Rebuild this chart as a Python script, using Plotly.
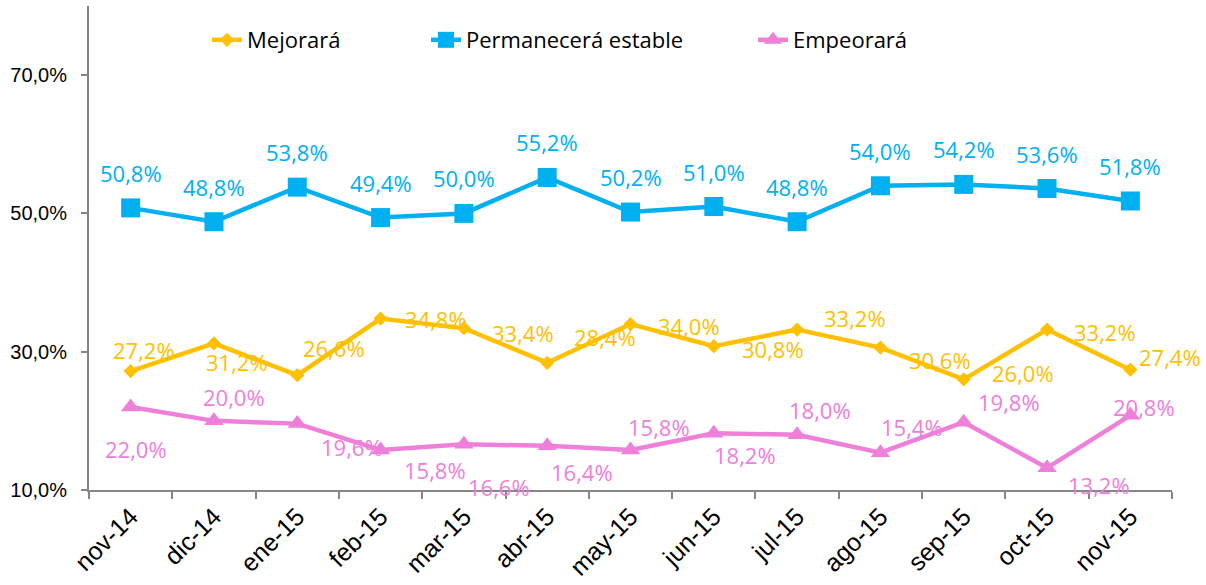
import plotly.graph_objects as go

months = ["nov-14", "dic-14", "ene-15", "feb-15", "mar-15", "abr-15", "may-15",
          "jun-15", "jul-15", "ago-15", "sep-15", "oct-15", "nov-15"]
mejorara = [27.2, 31.2, 26.6, 34.8, 33.4, 28.4, 34.0, 30.8, 33.2, 30.6, 26.0, 33.2, 27.4]
estable = [50.8, 48.8, 53.8, 49.4, 50.0, 55.2, 50.2, 51.0, 48.8, 54.0, 54.2, 53.6, 51.8]
empeorara = [22.0, 20.0, 19.6, 15.8, 16.6, 16.4, 15.8, 18.2, 18.0, 15.4, 19.8, 13.2, 20.8]

y_ticks = [10, 30, 50, 70]
y_tick_labels = ["10,0%", "30,0%", "50,0%", "70,0%"]

# label offsets in pixels (dx right, dy down) - styling only
mej_dx = [13, 23, 37, 55, 59, 58, 58, 59, 58, 60, 59, 58, 40]
mej_dy = [-21, 19, -27, 0, 5, -26, 2, 3, -12, 12, -6, 2, -13]
emp_dx = [5, 20, 55, 54, 35, 35, 28, 31, 23, 32, 45, 52, 14]
emp_dy = [42, -24, 23, 20, 43, 26, -23, 22, -25, -26, -20, 17, -8]

YELLOW = "#FFC000"
BLUE = "#00B0F0"
PINK = "#EE80DA"
AXIS = "#868686"
LABEL_FONT = "Open Sans"
TICK_FONT = "Liberation Sans"

PLOT_L, PLOT_R, PLOT_T, PLOT_B = 89, 1172, 6, 490
PW, PH = PLOT_R - PLOT_L, PLOT_B - PLOT_T

fig = go.Figure()
fig.add_trace(go.Scatter(x=months, y=mejorara, name="Mejorará", mode="lines+markers",
                         line=dict(color=YELLOW, width=4.5),
                         marker=dict(symbol="diamond", size=11, color=YELLOW),
                         legend="legend"))
fig.add_trace(go.Scatter(x=months, y=estable, name="Permanecerá estable", mode="lines+markers",
                         line=dict(color=BLUE, width=4.5),
                         marker=dict(symbol="square", size=19, color=BLUE),
                         legend="legend2"))
fig.add_trace(go.Scatter(x=months, y=empeorara, name="Empeorará", mode="lines+markers",
                         line=dict(color=PINK, width=4.5),
                         marker=dict(symbol="triangle-up", size=17, color=PINK),
                         legend="legend3"))


def fmt(v):
    return f"{v:.1f}%".replace(".", ",")


annotations = []
for i, m in enumerate(months):
    annotations.append(dict(x=m, y=estable[i], text=fmt(estable[i]), showarrow=False,
                            xshift=0, yshift=35,
                            font=dict(family=LABEL_FONT, size=22, color=BLUE)))
    annotations.append(dict(x=m, y=mejorara[i], text=fmt(mejorara[i]), showarrow=False,
                            xshift=mej_dx[i], yshift=-mej_dy[i],
                            font=dict(family=LABEL_FONT, size=22, color=YELLOW)))
    annotations.append(dict(x=m, y=empeorara[i], text=fmt(empeorara[i]), showarrow=False,
                            xshift=emp_dx[i], yshift=-emp_dy[i],
                            font=dict(family=LABEL_FONT, size=22, color=PINK)))


def leg(px):
    return dict(orientation="h", xref="paper", yref="paper",
                x=(px - PLOT_L) / PW, y=(PLOT_B - 40) / PH,
                yanchor="middle", xanchor="left", bgcolor="rgba(0,0,0,0)",
                borderwidth=0,
                font=dict(family=LABEL_FONT, size=22, color="#000000"))


fig.update_layout(
    width=1206, height=585,
    margin=dict(l=PLOT_L, r=1206 - PLOT_R, t=PLOT_T, b=585 - PLOT_B, autoexpand=False),
    paper_bgcolor="white", plot_bgcolor="white",
    annotations=annotations,
    showlegend=True,
    legend=leg(207),
    legend2=leg(426),
    legend3=leg(753),
    xaxis=dict(type="category", range=[-0.5, 12.5], showgrid=False,
               showline=True, linecolor=AXIS, linewidth=2,
               ticks="outside", tickson="boundaries", ticklen=7, tickcolor=AXIS, tickwidth=2,
               tickangle=-45, automargin=False,
               tickfont=dict(family=TICK_FONT, size=25, color="#000000")),
    yaxis=dict(range=[10, 80], tickvals=y_ticks, ticktext=y_tick_labels,
               showgrid=False, zeroline=False,
               showline=True, linecolor=AXIS, linewidth=2,
               ticks="outside", ticklen=6, tickcolor=AXIS, tickwidth=2,
               ticklabelstandoff=10, automargin=False,
               tickfont=dict(family=TICK_FONT, size=20, color="#000000")),
)

fig.write_html("out.html", config={"displayModeBar": False},
               post_script="document.body.style.margin='0';document.body.style.padding='0';")
